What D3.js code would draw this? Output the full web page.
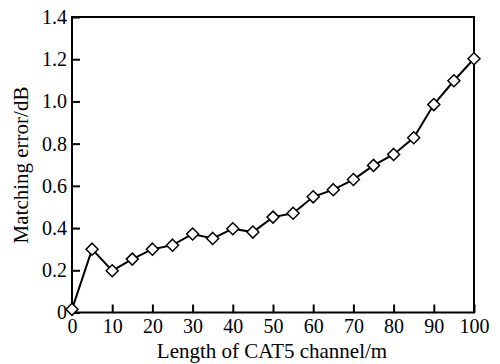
<!DOCTYPE html>
<html>
<head>
<meta charset="utf-8" />
<script src="https://cdnjs.cloudflare.com/ajax/libs/d3/7.8.5/d3.min.js"></script>
<style>
  body { margin: 0; background: #fff; }
  svg { font-family: "Liberation Serif", "Times New Roman", serif; }
</style>
</head>
<body>
<svg id="chart" width="500" height="364"></svg>
<script>
  // channel length (m) and matching error (dB)
  const lengths = [0, 5, 10, 15, 20, 25, 30, 35, 40, 45, 50, 55, 60, 65, 70, 75, 80, 85, 90, 95, 100]
  const errors = [0.015, 0.30, 0.198, 0.253, 0.30, 0.319, 0.372, 0.351, 0.397, 0.381, 0.452, 0.47, 0.548, 0.582, 0.63, 0.697, 0.749, 0.828, 0.985, 1.098, 1.202]
  const xTicks = [0, 10, 20, 30, 40, 50, 60, 70, 80, 90, 100]
  const yTicks = [0, 0.2, 0.4, 0.6, 0.8, 1.0, 1.2, 1.4]

  const svg = d3.select('#chart')
  const pLeft = 72, pRight = 474, pTop = 17, pBottom = 312.5
  const serif = 'Liberation Serif, Times New Roman, serif'

  const x = d3.scaleLinear().domain([0, 100]).range([pLeft, pRight])
  const y = d3.scaleLinear().domain([0, 1.4]).range([pBottom, pTop])

  // frame
  svg.append('rect')
    .attr('x', pLeft).attr('y', pTop)
    .attr('width', pRight - pLeft).attr('height', pBottom - pTop)
    .style('fill', 'none').style('stroke', '#000').style('stroke-width', '2px')

  const xAxis = d3.axisBottom(x).tickValues(xTicks).tickSize(-8).tickPadding(6)
    .tickFormat(d3.format('d'))
  svg.append('g').attr('transform', 'translate(0,' + pBottom + ')').call(xAxis)
    .attr('font-family', serif).attr('font-size', 20)

  const yAxis = d3.axisLeft(y).tickValues(yTicks).tickSize(-8).tickPadding(5)
    .tickFormat(d => d === 0 ? '0' : d3.format('.1f')(d))
  svg.append('g').attr('transform', 'translate(' + pLeft + ',0)').call(yAxis)
    .attr('font-family', serif).attr('font-size', 20)

  svg.selectAll('.domain').remove()
  svg.selectAll('.tick line').style('stroke', '#000').style('stroke-width', '2px')
  svg.selectAll('.tick text').style('fill', '#000')

  // series line
  const line = d3.line().x((d, i) => x(lengths[i])).y(d => y(d))
  svg.append('path').datum(errors)
    .attr('d', line)
    .style('fill', 'none').style('stroke', '#000').style('stroke-width', '2px')

  // diamond markers
  svg.selectAll('path.marker')
    .data(errors)
    .enter()
    .append('path')
    .attr('class', 'marker')
    .attr('d', 'M0,-6L6,0L0,6L-6,0Z')
    .attr('transform', (d, i) => 'translate(' + x(lengths[i]) + ',' + y(d) + ')')
    .style('fill', '#fff').style('stroke', '#000').style('stroke-width', '1.5px')

  // axis titles
  svg.append('text')
    .attr('x', 272).attr('y', 358)
    .attr('text-anchor', 'middle')
    .attr('font-family', serif).attr('font-size', 21)
    .text('Length of CAT5 channel/m')

  svg.append('text')
    .attr('transform', 'translate(28,165) rotate(-90)')
    .attr('text-anchor', 'middle')
    .attr('font-family', serif).attr('font-size', 21)
    .text('Matching error/dB')
</script>
</body>
</html>
